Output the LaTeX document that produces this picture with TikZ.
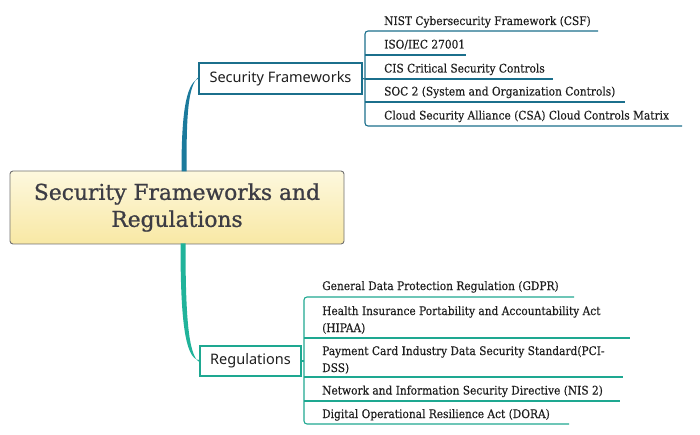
\documentclass[tikz,border=0pt]{standalone}
\usepackage{fontspec}
\setmainfont{DejaVu Serif}
\newfontfamily\leaffont[FakeBold=0.3]{DejaVu Serif Condensed}
\newfontfamily\titlefont[FakeBold=0.9]{DejaVu Serif}
\newfontfamily\branchfont{Noto Sans}
\usetikzlibrary{calc}
\definecolor{topc}{HTML}{1B6F8C}
\definecolor{topcurve}{HTML}{1B7A9C}
\definecolor{botc}{HTML}{1EA891}
\definecolor{botcurve}{HTML}{20B39A}
\definecolor{rootborder}{HTML}{707070}
\definecolor{roottop}{HTML}{FDF8DE}
\definecolor{rootbot}{HTML}{F8E8A4}
\definecolor{txt}{HTML}{1E1E1E}
\definecolor{titletxt}{HTML}{3C3C44}
\tikzset{
  rootbox/.style={draw=rootborder, line width=0.9pt, rounded corners=3pt,
    top color=roottop, bottom color=rootbot, minimum width=334pt, minimum height=73pt,
    align=center, text=titletxt, font=\titlefont\fontsize{21.8}{27}\selectfont, inner sep=0pt},
  branchbox/.style={draw=#1, line width=1.1pt, fill=white, inner sep=0pt,
    text=txt, font=\branchfont\fontsize{14.5}{17}\selectfont},
  leaf/.style={anchor=base west, inner sep=0pt, text=txt,
    font=\leaffont\fontsize{11.8}{17}\selectfont},
  topline/.style={draw=topc, line width=1.1pt},
  botline/.style={draw=botc, line width=1.1pt},
}
\begin{document}
\begin{tikzpicture}[x=1pt,y=-1pt]
\useasboundingbox (0,0) rectangle (700,435);

% root
\node[rootbox] (root) at (177,207.5) {Security Frameworks and\\Regulations};

% branches
\node[branchbox=topc, minimum width=163pt, minimum height=31pt] (sf) at (280.5,78.5) {Security Frameworks};
\node[branchbox=botc, minimum width=101pt, minimum height=30pt] (rg) at (250.5,361) {Regulations};

% tapered curves
\fill[topcurve] (181.5,171.5) .. controls (181.5,118) and (185,84) .. (sf.west)
  -- ([yshift=1.3pt]sf.west) .. controls (187.5,86) and (186.5,118) .. (186.5,171.5) -- cycle;
\fill[botcurve] (180.5,243.5) .. controls (180.5,312) and (184,360) .. ([yshift=1pt]rg.west)
  -- ([yshift=-1pt]rg.west) .. controls (188,356) and (185.5,312) .. (185.5,243.5) -- cycle;

% top leaves
\node[leaf] (f1) at (384,25) {NIST Cybersecurity Framework (CSF)};
\node[leaf] (f2) at (384,48.5) {ISO/IEC 27001};
\node[leaf] (f3) at (384,72.5) {CIS Critical Security Controls};
\node[leaf] (f4) at (384,95.5) {SOC 2 (System and Organization Controls)};
\node[leaf] (f5) at (384,119.5) {Cloud Security Alliance (CSA) Cloud Controls Matrix};
\coordinate (fe1) at (598,31);
\coordinate (fe2) at (466,55);
\coordinate (fe3) at (553,79);
\coordinate (fe4) at (625,102);
\coordinate (fe5) at (682,126);
\draw[topline, rounded corners=3pt] (fe1) -- (365,31) -- (365,126) -- (fe5);
\draw[topline] (365,55) -- (fe2);
\draw[topline] (365,79) -- (fe3);
\draw[topline] (365,102) -- (fe4);
\draw[topline] (sf.east) -- (365,79);

% bottom leaves
\node[leaf] (r1) at (322,290) {General Data Protection Regulation (GDPR)};
\node[leaf] (r2) at (322,315) {\vtop{\baselineskip=17pt\hbox{Health Insurance Portability and Accountability Act}\hbox{(HIPAA)}}};
\node[leaf] (r3) at (322,355) {\vtop{\baselineskip=17pt\hbox{Payment Card Industry Data Security Standard(PCI-}\hbox{DSS)}}};
\node[leaf] (r4) at (322,394.5) {Network and Information Security Directive (NIS 2)};
\node[leaf] (r5) at (322,418) {Digital Operational Resilience Act (DORA)};
\coordinate (re1) at (574,297);
\coordinate (re2) at (630,338);
\coordinate (re3) at (623,377);
\coordinate (re4) at (620,401);
\coordinate (re5) at (569,424);
\draw[botline, rounded corners=3pt] (re1) -- (304,297) -- (304,424) -- (re5);
\draw[botline] (304,338) -- (re2);
\draw[botline] (304,377) -- (re3);
\draw[botline] (304,401) -- (re4);
\draw[botline] (rg.east) -- (304,361);
\end{tikzpicture}
\end{document}
